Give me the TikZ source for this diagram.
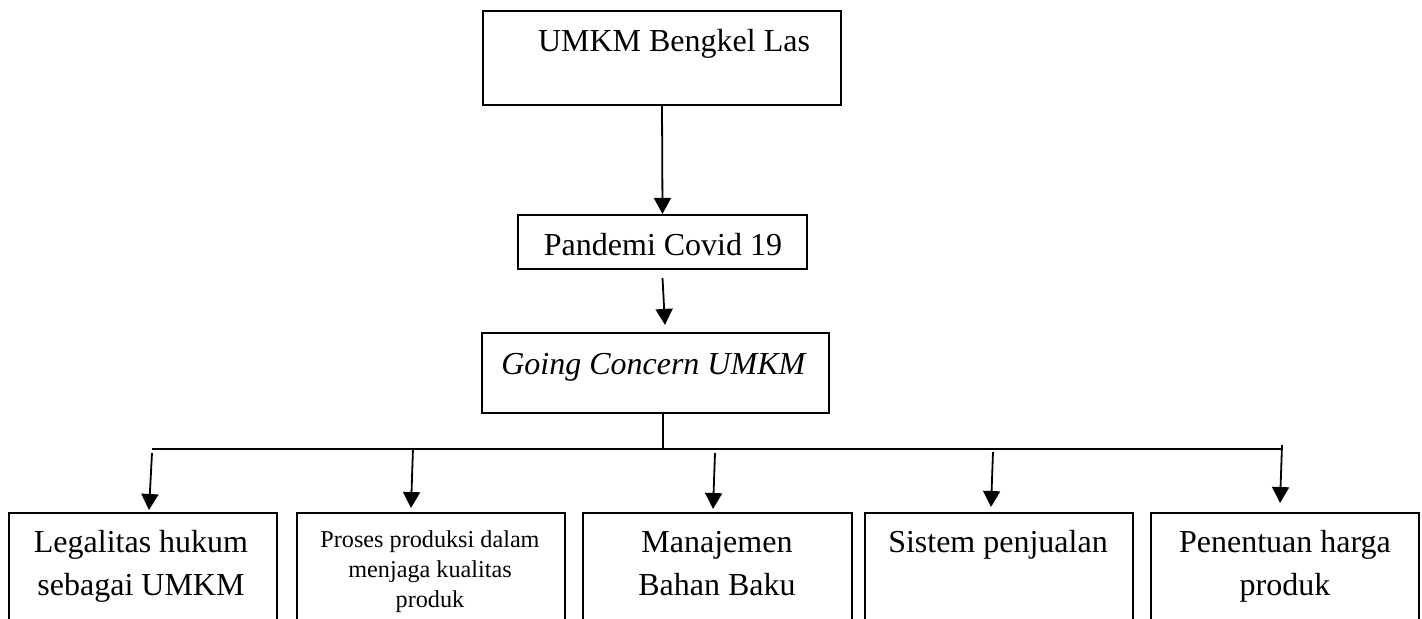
\documentclass[tikz,border=0pt]{standalone}
\usepackage{fontspec}
\setmainfont{Liberation Serif}
\usetikzlibrary{arrows.meta,positioning}

\tikzset{
  box/.style={draw, line width=1.1pt, inner sep=0pt},
  link/.style={line width=0.9pt},
  arr/.style={link, -{Triangle[width=8.5pt,length=8pt]}},
  bigtxt/.style={font=\fontsize{16}{21.5}\selectfont, align=center, anchor=base, inner sep=0pt},
  smalltxt/.style={font=\fontsize{12.1}{15}\selectfont, align=center, anchor=base, inner sep=0pt},
}

\begin{document}
\begin{tikzpicture}[x=0.5pt,y=-0.5pt]
  \useasboundingbox (0,0) rectangle (1422,618);
  \clip (0,0) rectangle (1422,618);

  % upper chain
  \node[box, minimum width=179pt, minimum height=47pt] (umkm) at (662,58) {};
  \node[box, minimum width=144.5pt, minimum height=27pt] (covid) at (662.5,242) {};
  \node[box, minimum width=173.5pt, minimum height=40pt] (going) at (655.5,373) {};

  \node[bigtxt] (umkmtxt) at (674,51) {UMKM Bengkel Las};
  \node[bigtxt] (covidtxt) at (663,255) {Pandemi Covid 19};
  \node[bigtxt] (goingtxt) at (654,374) {\textit{Going Concern UMKM}};

  % lower row (cut off at the bottom edge)
  \node[box, anchor=north, minimum width=134pt, minimum height=70pt] (legal) at (143,512) {};
  \node[box, anchor=north, minimum width=134pt, minimum height=70pt] (proses) at (431,512) {};
  \node[box, anchor=north, minimum width=134.5pt, minimum height=70pt] (bahan) at (717.5,512) {};
  \node[box, anchor=north, minimum width=134pt, minimum height=70pt] (jual) at (999,512) {};
  \node[box, anchor=north, minimum width=134pt, minimum height=70pt] (harga) at (1285,512) {};

  % base = last line
  \node[bigtxt] (legaltxt) at (141,595) {Legalitas hukum\\sebagai UMKM};
  \node[smalltxt] (prosestxt) at (430,607) {Proses produksi dalam\\menjaga kualitas\\produk};
  \node[bigtxt] (bahantxt) at (717,595) {Manajemen\\Bahan Baku};
  \node[bigtxt] (jualtxt) at (998,552) {Sistem penjualan};
  \node[bigtxt] (hargatxt) at (1285,595) {Penentuan harga\\produk};

  % arrows down the middle
  \draw[arr] (umkm.south) -- (covid.north);
  \draw[arr] ([shift={(0,8)}]covid.south) -- ([shift={(9.5,-7)}]going.north);

  % branching rail
  \coordinate (railL) at (152,449);
  \coordinate (railR) at (1283,449);
  \coordinate (stem) at ([shift={(7.5,0)}]going.south);
  \draw[link] (stem) -- (stem |- railL);
  \draw[link] (railL) -- (railR);

  \coordinate (d1) at (152,453);
  \coordinate (d2) at (413,448);
  \coordinate (d3) at (715,453);
  \coordinate (d4) at (993,452);
  \coordinate (d5) at (1282,445);
  \draw[arr] (d1) -- ([shift={(6,-2)}]legal.north);
  \draw[arr] (d2) -- ([shift={(-20,-4)}]proses.north);
  \draw[arr] (d3) -- ([shift={(-4.5,-3)}]bahan.north);
  \draw[arr] (d4) -- ([shift={(-8,-5)}]jual.north);
  \draw[arr] (d5) -- ([shift={(-5,-9)}]harga.north);
\end{tikzpicture}
\end{document}
